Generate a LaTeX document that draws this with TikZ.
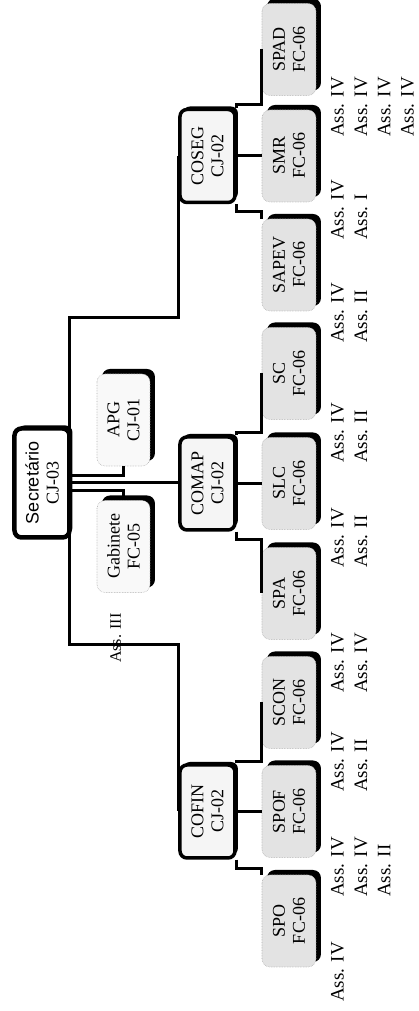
\documentclass[tikz,border=0pt]{standalone}
\usepackage{fontspec}
\setmainfont{Liberation Serif}
\newfontfamily\secfont{Liberation Sans}
\usetikzlibrary{positioning,calc,shadows}

\tikzset{
  boss/.style={draw=black, line width=4.5pt, fill=white, rounded corners=7pt,
    minimum width=109pt, minimum height=55pt, align=center, inner sep=0pt,
    font=\fontsize{18}{20}\selectfont,
    drop shadow={shadow xshift=3pt, shadow yshift=3pt, fill=black, opacity=1}},
  chief/.style={draw=black, line width=3.5pt, fill=gray!8, rounded corners=7pt,
    minimum width=93pt, minimum height=55pt, align=center, inner sep=0pt,
    font=\fontsize{18}{20}\selectfont,
    drop shadow={shadow xshift=3pt, shadow yshift=3pt, fill=black, opacity=1}},
  staff/.style={draw=gray!60, densely dotted, line width=0.6pt, fill=gray!5, rounded corners=8pt,
    minimum width=92pt, minimum height=53pt, align=center, inner sep=0pt,
    font=\fontsize{18}{20}\selectfont,
    drop shadow={shadow xshift=5pt, shadow yshift=5pt, fill=black, opacity=1}},
  unit/.style={draw=gray!60, densely dotted, line width=0.6pt, fill=gray!22, rounded corners=8pt,
    minimum width=92pt, minimum height=54pt, align=center, inner sep=0pt,
    font=\fontsize{18}{20}\selectfont,
    drop shadow={shadow xshift=5pt, shadow yshift=5pt, fill=black, opacity=1}},
  post/.style={anchor=north west, inner sep=0pt, align=left, font=\fontsize{19}{23.3}\selectfont},
  link/.style={draw=black, line width=3pt}
}

\begin{document}
\begin{tikzpicture}[x=1pt, y=1pt, rotate=90, transform shape]
  \useasboundingbox (0,0) rectangle (1011,418);

  % --- Top levels ---
  \node[boss]  (sec)   at (528,376)   {{\secfont Secretário}\\CJ-03};
  \node[staff] (apg)   at (591,294.5) {APG\\CJ-01};
  \node[staff] (gab)   at (464.5,294.5) {Gabinete\\FC-05};

  \node[chief] (cofin) at (199.5,210.5) {COFIN\\CJ-02};
  \node[chief] (comap) at (527.5,210.5) {COMAP\\CJ-02};
  \node[chief] (coseg) at (855,210.5)   {COSEG\\CJ-02};

  % --- Units ---
  \node[unit] (spo)   at (90,129)    {SPO\\FC-06};
  \node[unit] (spof)  at (199.5,129) {SPOF\\FC-06};
  \node[unit] (scon)  at (308.5,129) {SCON\\FC-06};
  \node[unit] (spa)   at (417.5,129) {SPA\\FC-06};
  \node[unit] (slc)   at (527.5,129) {SLC\\FC-06};
  \node[unit] (sc)    at (637.5,129) {SC\\FC-06};
  \node[unit] (sapev) at (746,129)   {SAPEV\\FC-06};
  \node[unit] (smr)   at (855,129)   {SMR\\FC-06};
  \node[unit] (spad)  at (961.5,129) {SPAD\\FC-06};

  % --- Connectors from Secretario ---
  \coordinate (busR) at (693,348);
  \coordinate (busL) at (366,348);
  \draw[link] (coseg.north) -| (busR) -- (busL) |- (cofin.north);
  \draw[link] ($(sec.south)+(7,0)$) |- (apg.west);
  \draw[link] (sec.south) -- (sec.south |- comap.north);
  \draw[link] ($(sec.south)+(-8,0)$) |- (gab.east);

  % --- Connectors to units ---
  \draw[link] (cofin.south east) -- ++(2,0) |- (scon.north);
  \draw[link] (cofin.south) -- (cofin.south |- spof.north);
  \draw[link] (cofin.south west) -- ++(-9,0) |- (spo.north east);
  \draw[link] (comap.south east) -- ++(3,0) |- (sc.north);
  \draw[link] (comap.south) -- (comap.south |- slc.north);
  \draw[link] (comap.south west) -- ++(-8,0) |- (spa.north);
  \draw[link] (coseg.south east) -- ++(3,0) |- (spad.north);
  \draw[link] (coseg.south) -- (coseg.south |- smr.north);
  \draw[link] (coseg.south west) -- ++(-7,0) |- (sapev.north east);

  % --- Posts ---
  \node[post] (p1) at (9,87)   {Ass. IV};
  \node[post] (p2) at (114,87) {Ass. IV\\Ass. IV\\Ass. II};
  \node[post] (p3) at (219,87) {Ass. IV\\Ass. II};
  \node[post] (p4) at (318,87) {Ass. IV\\Ass. IV};
  \node[post] (p5) at (443,87) {Ass. IV\\Ass. II};
  \node[post] (p6) at (548,87) {Ass. IV\\Ass. II};
  \node[post] (p7) at (668,87) {Ass. IV\\Ass. II};
  \node[post] (p8) at (771,87) {Ass. IV\\Ass. I};
  \node[post] (p9) at (874,87) {Ass. IV\\Ass. IV\\Ass. IV\\Ass. IV};
  \node[post, font=\fontsize{16}{19}\selectfont] (p0) at (348,308) {Ass. III};
\end{tikzpicture}
\end{document}
